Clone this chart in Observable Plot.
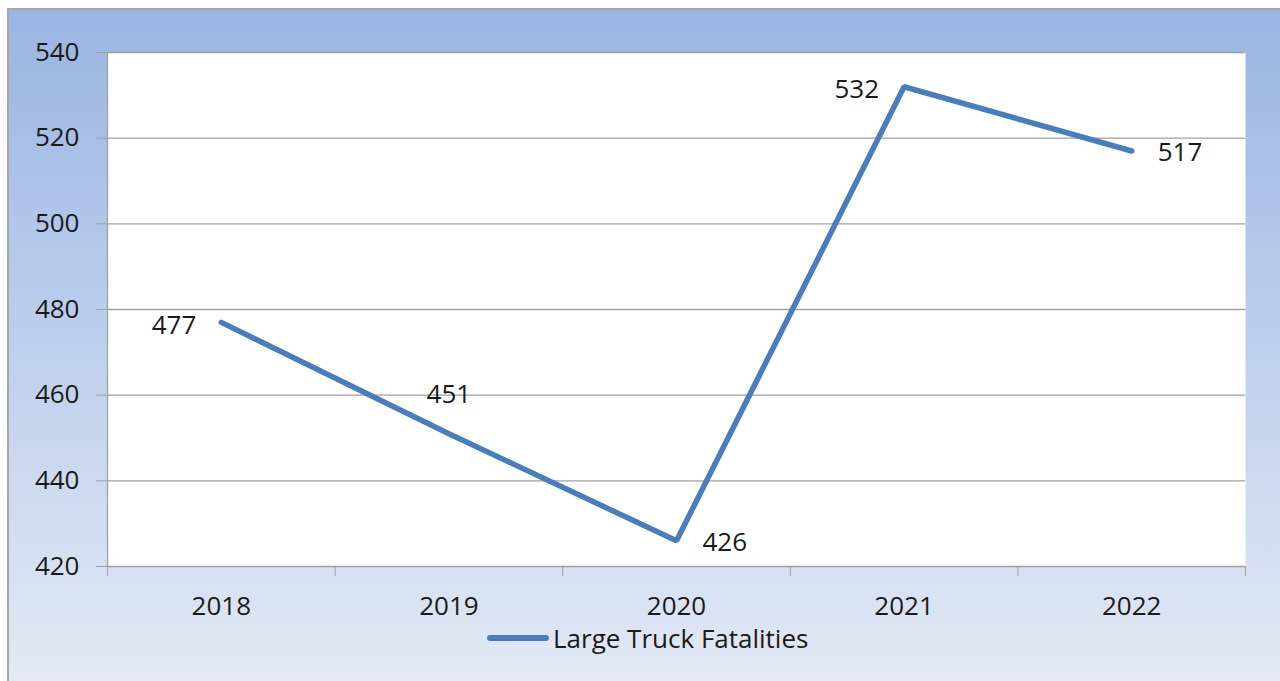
<!DOCTYPE html>
<html>
<head>
<meta charset="utf-8">
<script src="https://cdn.jsdelivr.net/npm/d3@7"></script>
<script src="https://cdn.jsdelivr.net/npm/@observablehq/plot@0.6"></script>
<style>
  html, body { margin: 0; padding: 0; background: #ffffff; }
  #wrap { position: relative; width: 1280px; height: 681px; overflow: hidden; font-family: "Open Sans", sans-serif; }
  #bg { position: absolute; left: 7px; top: 8px; width: 1290px; height: 700px; box-sizing: border-box;
        border: 2px solid #a6a6a6; background: linear-gradient(to bottom, #9ab5e2 0%, #c3d3ee 55%, #e6ebf6 100%); }
  #chart { position: absolute; left: 0; top: 0; }
  #legend { position: absolute; left: 487px; top: 620px; display: flex; align-items: center; font-size: 26px; color: #1a1a1a; }
  #legend .swatch { width: 62px; height: 6px; border-radius: 3px; background: #4a7ebb; margin-right: 4px; }
</style>
</head>
<body>
<div id="wrap">
  <div id="bg"></div>
  <div id="chart"></div>
  <div id="legend"><span class="swatch"></span><span id="legendText"></span></div>
</div>
<script>
const years = [2018, 2019, 2020, 2021, 2022];
const fatalities = [477, 451, 426, 532, 517];
const yTicks = [420, 440, 460, 480, 500, 520, 540];
const seriesName = "Large Truck Fatalities";

const data = years.map((year, i) => ({year, value: fatalities[i]}));
const bounds = [years[0] - 0.5, ...years.map(y => y + 0.5)];

// label placement relative to the point
const placement = {2018: "left", 2019: "above", 2020: "right", 2021: "left", 2022: "right"};
const lineColor = "#4a7ebb";
const gridColor = "#a0a0a0";
const textColor = "#1a1a1a";

const byPlace = p => data.filter(d => placement[d.year] === p);

const chart = Plot.plot({
  width: 1280,
  height: 625,
  marginLeft: 107,
  marginRight: 35,
  marginTop: 52,
  marginBottom: 59,
  x: {domain: [bounds[0], bounds[bounds.length - 1]]},
  y: {domain: [yTicks[0], yTicks[yTicks.length - 1]]},
  style: {background: "transparent", fontFamily: "'Open Sans', sans-serif", fontSize: "26px", color: textColor},
  marks: [
    Plot.frame({fill: "white", stroke: null}),
    Plot.ruleY(yTicks, {stroke: gridColor, strokeWidth: 1.3}),
    Plot.ruleX([bounds[0]], {stroke: gridColor, strokeWidth: 1.3}),
    Plot.axisY({ticks: yTicks, tickSize: 11, tickPadding: 17, tickFormat: d => String(d), stroke: gridColor, fill: textColor, fontSize: 26, label: null}),
    Plot.axisX({ticks: bounds, tickSize: 10, tickFormat: () => "", stroke: gridColor, label: null}),
    Plot.axisX({ticks: years, tickSize: 0, tickPadding: 30, tickFormat: d => String(d), fill: textColor, fontSize: 26, label: null}),
    Plot.line(data, {x: "year", y: "value", stroke: lineColor, strokeWidth: 5.5, strokeLinecap: "round", strokeLinejoin: "miter"}),
    Plot.text(byPlace("left"), {x: "year", y: "value", text: d => String(d.value), textAnchor: "end", dx: -25, dy: 3, fill: textColor, fontSize: 26}),
    Plot.text(byPlace("right"), {x: "year", y: "value", text: d => String(d.value), textAnchor: "start", dx: 26, dy: 2, fill: textColor, fontSize: 26}),
    Plot.text(byPlace("above"), {x: "year", y: "value", text: d => String(d.value), textAnchor: "middle", dx: 0, dy: -39, fill: textColor, fontSize: 26})
  ]
});
document.getElementById("chart").appendChild(chart);
document.getElementById("legendText").textContent = seriesName;
</script>
</body>
</html>
